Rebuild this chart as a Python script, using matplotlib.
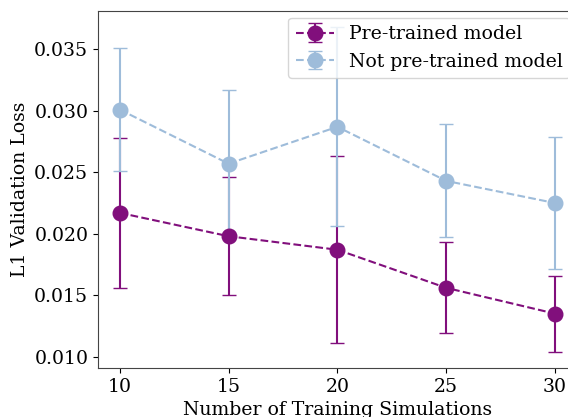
import numpy as np
import matplotlib
matplotlib.use("Agg")
import matplotlib.pyplot as plt

plt.rcParams['font.family'] = ['DejaVu Serif']
plt.rcParams['font.size'] = 13.6

# Validation loss (mean and std) per number of training simulations
n_sims = [10, 15, 20, 25, 30]
pretrained_mean = [0.0217, 0.0198, 0.0187, 0.0156, 0.0135]
pretrained_std = [0.0061, 0.0048, 0.0076, 0.0037, 0.0031]
scratch_mean = [0.0301, 0.0257, 0.0287, 0.0243, 0.0225]
scratch_std = [0.0050, 0.0060, 0.0081, 0.0046, 0.0054]

purple = '#810f7c'
light_blue = '#9ebcda'

fig = plt.figure(figsize=(5.68, 4.17), dpi=100)
ax = fig.add_axes([0.1725, 0.1175, 0.843, 0.8561])

ax.errorbar(n_sims, pretrained_mean, yerr=pretrained_std, fmt='o--', color=purple,
            markersize=10.5, capsize=5, linewidth=1.5, label='Pre-trained model')
ax.errorbar(n_sims, scratch_mean, yerr=scratch_std, fmt='o--', color=light_blue,
            markersize=10.5, capsize=5, linewidth=1.5, label='Not pre-trained model')

ax.set_xticks(n_sims)
ax.set_yticks([0.010, 0.015, 0.020, 0.025, 0.030, 0.035])
ax.set_xlabel('Number of Training Simulations')
ax.set_ylabel('L1 Validation Loss')
for s in ax.spines.values():
    s.set_color('#444444')
ax.legend(loc='upper right', fontsize=13.6, borderaxespad=0.35)

fig.savefig('out.png', dpi=100)
